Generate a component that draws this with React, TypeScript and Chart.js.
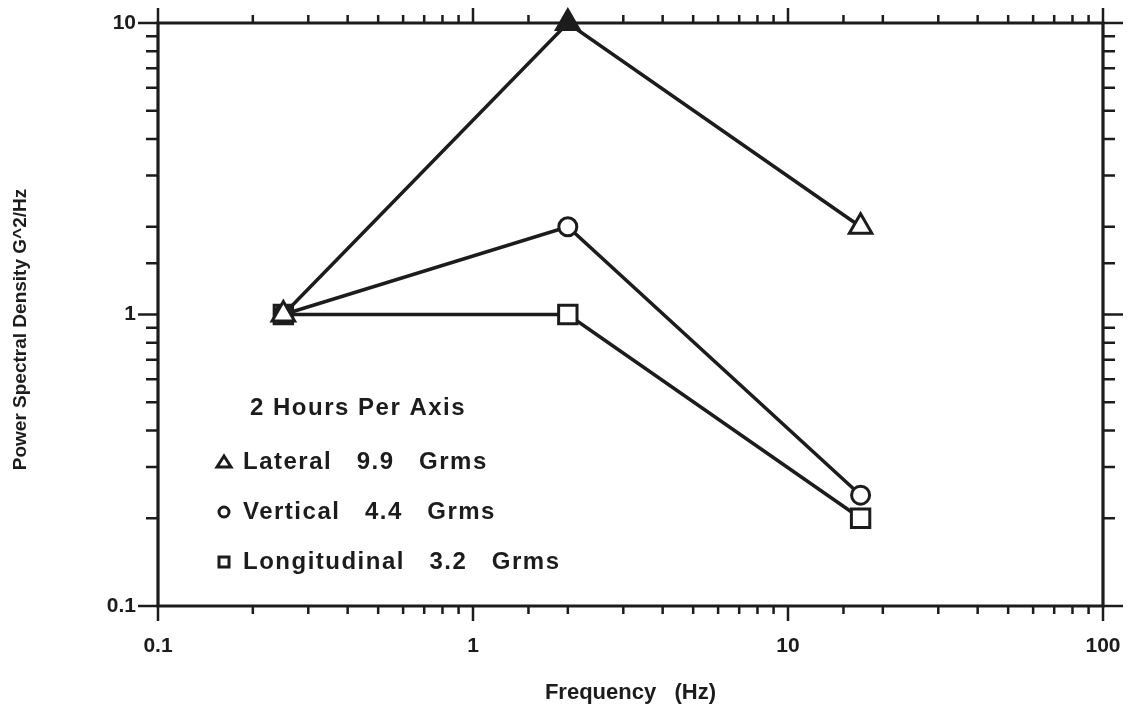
import React, { useEffect, useRef } from "react";
import { Chart, registerables } from "chart.js";
Chart.register(...registerables);

// ---- data ----
const frequencies = [0.25, 2, 17];
const lateral = [1, 10, 2];
const vertical = [1, 2, 0.24];
const longitudinal = [1, 1, 0.2];
const seriesNames = ["Lateral", "Vertical", "Longitudinal"];
const seriesRms = ["9.9", "4.4", "3.2"];
const rmsUnit = "Grms";
const legendTitle = "2 Hours Per Axis";
const xTickLabels = ["0.1", "1", "10", "100"];
const yTickLabels = ["0.1", "1", "10"];
const xTitle = "Frequency   (Hz)";
const yTitle = "Power Spectral Density G^2/Hz";

const INK = "#1c1c1c";
const FONT = "'Liberation Sans', Arial, Helvetica, sans-serif";

const isPow10 = (v: number) => {
  const l = Math.log10(v);
  return Math.abs(l - Math.round(l)) < 1e-6;
};

const framePlugin = {
  id: "frameTicks",
  beforeDatasetsDraw(chart: any) {
    const { ctx, chartArea: a, scales } = chart;
    const xs = scales.x;
    const ys = scales.y;
    ctx.save();
    ctx.strokeStyle = INK;
    ctx.lineCap = "butt";
    ctx.lineWidth = 3.2;
    ctx.beginPath();
    ctx.rect(a.left, a.top, a.right - a.left, a.bottom - a.top);
    ctx.stroke();
    ctx.lineWidth = 2.5;
    ctx.beginPath();
    for (const t of xs.ticks) {
      const px = xs.getPixelForValue(t.value);
      const len = isPow10(t.value) ? 15 : 8;
      ctx.moveTo(px, a.bottom);
      ctx.lineTo(px, a.bottom + len);
      ctx.moveTo(px, a.top);
      ctx.lineTo(px, a.top - len);
    }
    for (const t of ys.ticks) {
      const py = ys.getPixelForValue(t.value);
      const len = isPow10(t.value) ? 20 : 12;
      ctx.moveTo(a.left, py);
      ctx.lineTo(a.left - len, py);
      ctx.moveTo(a.right, py);
      ctx.lineTo(a.right + len, py);
    }
    ctx.stroke();
    // y axis title
    ctx.translate(21, (a.top + a.bottom) / 2 + 15);
    ctx.rotate(-Math.PI / 2);
    ctx.font = `bold 19px ${FONT}`;
    ctx.fillStyle = INK;
    ctx.textAlign = "center";
    ctx.textBaseline = "middle";
    ctx.fillText(yTitle, 0, 0);
    ctx.restore();
  },
};

const legendPlugin = {
  id: "innerLegend",
  afterDraw(chart: any) {
    const { ctx, chartArea: a } = chart;
    ctx.save();
    ctx.font = `bold 24px ${FONT}`;
    (ctx as any).letterSpacing = "1.5px";
    ctx.textBaseline = "middle";
    ctx.fillStyle = INK;
    ctx.strokeStyle = INK;
    ctx.lineWidth = 3;
    ctx.fillText(legendTitle, a.left + 92, a.top + 385);
    const rowsY = [a.top + 439, a.top + 489, a.top + 539];
    const mx = a.left + 66;
    const tx = a.left + 85;
    seriesNames.forEach((name, i) => {
      const y = rowsY[i];
      ctx.beginPath();
      if (i === 0) {
        ctx.moveTo(mx, y - 6);
        ctx.lineTo(mx + 7, y + 5);
        ctx.lineTo(mx - 7, y + 5);
        ctx.closePath();
      } else if (i === 1) {
        ctx.arc(mx, y, 5, 0, Math.PI * 2);
      } else {
        ctx.rect(mx - 5, y - 5, 10, 10);
      }
      ctx.stroke();
      ctx.fillText(`${name}   ${seriesRms[i]}   ${rmsUnit}`, tx, y);
    });
    ctx.restore();
  },
};

export default function App() {
  const ref = useRef<HTMLCanvasElement | null>(null);
  useEffect(() => {
    document.body.style.margin = "0";
    if (!ref.current) return;
    Chart.defaults.font.family = FONT;
    Chart.defaults.color = INK;
    const mk = (vals: number[]) => frequencies.map((f, i) => ({ x: f, y: vals[i] }));
    const common = {
      borderColor: INK,
      borderWidth: 3.5,
      pointBorderColor: INK,
      pointBorderWidth: 3,
      pointBackgroundColor: "#ffffff",
      clip: false as any,
      tension: 0,
      fill: false,
    };
    const chart = new Chart(ref.current, {
      type: "line",
      data: {
        datasets: [
          {
            ...common,
            label: seriesNames[0],
            data: mk(lateral),
            pointStyle: "triangle",
            pointRadius: 13,
            pointBackgroundColor: (c: any) => (c.dataIndex === 1 ? INK : "#ffffff"),
          },
          {
            ...common,
            label: seriesNames[1],
            data: mk(vertical),
            pointStyle: "circle",
            pointRadius: 9,
          },
          {
            ...common,
            label: seriesNames[2],
            data: mk(longitudinal),
            pointStyle: "rect",
            pointRadius: 13,
          },
        ],
      },
      options: {
        animation: false,
        responsive: true,
        maintainAspectRatio: false,
        layout: { padding: { top: 23, right: 27, left: 0, bottom: 0 } },
        plugins: { legend: { display: false }, tooltip: { enabled: false } },
        scales: {
          x: {
            type: "logarithmic",
            min: 0.1,
            max: 100,
            grid: { display: false, drawTicks: false },
            border: { display: false },
            afterFit: (s: any) => {
              s.height = 107;
              s.paddingLeft = 0;
              s.paddingRight = 0;
            },
            ticks: {
              autoSkip: false,
              maxRotation: 0,
              padding: 28,
              font: { size: 21, weight: "bold" },
              color: INK,
              callback: (v: any) => {
                const n = Number(v);
                return isPow10(n) ? xTickLabels[Math.round(Math.log10(n)) + 1] : "";
              },
            },
            title: {
              display: true,
              text: xTitle,
              font: { size: 22, weight: "bold" },
              color: INK,
              padding: { top: 0, bottom: 7 },
            },
          },
          y: {
            type: "logarithmic",
            min: 0.1,
            max: 10,
            grid: { display: false, drawTicks: false },
            border: { display: false },
            afterFit: (s: any) => {
              s.width = 158;
              s.paddingTop = 0;
              s.paddingBottom = 0;
            },
            ticks: {
              autoSkip: false,
              padding: 22,
              font: { size: 21, weight: "bold" },
              color: INK,
              callback: (v: any) => {
                const n = Number(v);
                return isPow10(n) ? yTickLabels[Math.round(Math.log10(n)) + 1] : "";
              },
            },
            title: { display: false },
          },
        },
      },
      plugins: [framePlugin, legendPlugin],
    } as any);
    return () => chart.destroy();
  }, []);
  return (
    <div style={{ position: "relative", width: 1130, height: 713 }}>
      <canvas ref={ref} />
    </div>
  );
}
